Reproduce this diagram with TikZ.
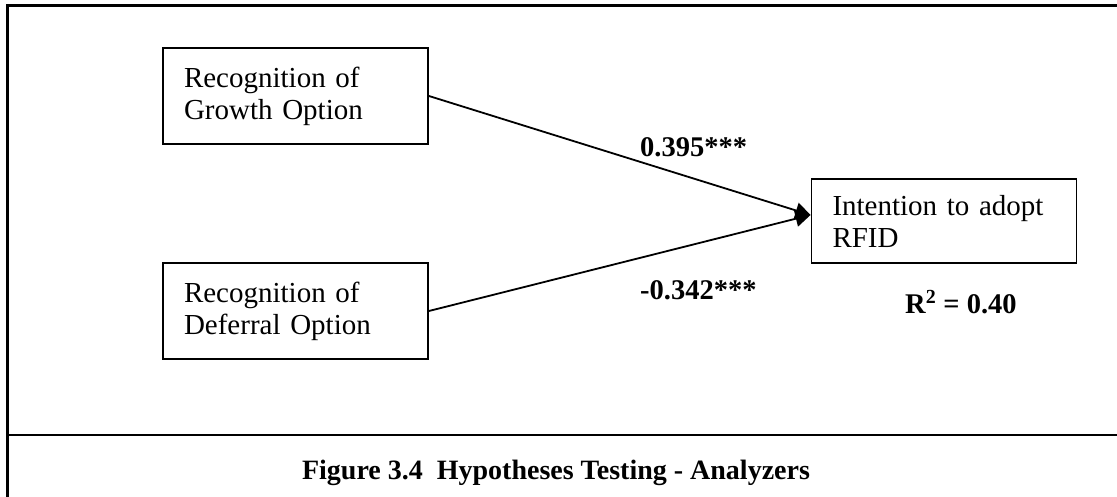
\documentclass[tikz,border=0pt]{standalone}
\usepackage{fontspec}
\setmainfont{Liberation Serif}
\usetikzlibrary{arrows.meta}

\tikzset{
  construct/.style={draw, line width=1.9pt, rectangle, align=left,
    text width=223pt, inner xsep=21pt, inner ysep=0pt,
    font=\fontsize{29}{32}\selectfont},
  path coef/.style={anchor=base west, inner sep=0pt,
    font=\fontsize{28.5}{32}\selectfont\bfseries},
  frame line/.style={line width=2.4pt},
  effect/.style={line width=1.8pt, -{Triangle[length=15pt,width=16pt]}},
}

\begin{document}
\begin{tikzpicture}[x=1pt, y=-1pt]
  \useasboundingbox (0,0) rectangle (1117,497);

  % outer frame and caption divider
  \draw[frame line] (7.5,497) -- (7.5,5.5) -- (1117,5.5);
  \draw[frame line] (7.5,435) -- (1117,435);

  % constructs
  \node[construct, minimum height=96pt] (growth) at (295.5,96)
    {Recognition of\\Growth Option};
  \node[construct, minimum height=96pt] (deferral) at (295.5,311)
    {Recognition of\\Deferral Option};
  \node[construct, minimum height=84pt] (intent) at (944,221)
    {Intention to adopt\\RFID};

  % structural paths
  \coordinate (tip) at ([yshift=6pt]intent.west);
  \draw[effect] (growth.east) -- (tip);
  \draw[effect] (deferral.east) -- (tip);

  % path coefficients and explained variance
  \node[path coef] (b1) at (640,157) {0.395***};
  \node[path coef] (b2) at (640,300) {-0.342***};
  \node[path coef] (r2) at (905,313) {R\textsuperscript{2} = 0.40};

  % caption
  \node[anchor=base, inner sep=0pt,
        font=\fontsize{28}{32}\selectfont\bfseries] (caption) at (556,479)
    {Figure 3.4\ \ Hypotheses Testing - Analyzers};
\end{tikzpicture}
\end{document}
